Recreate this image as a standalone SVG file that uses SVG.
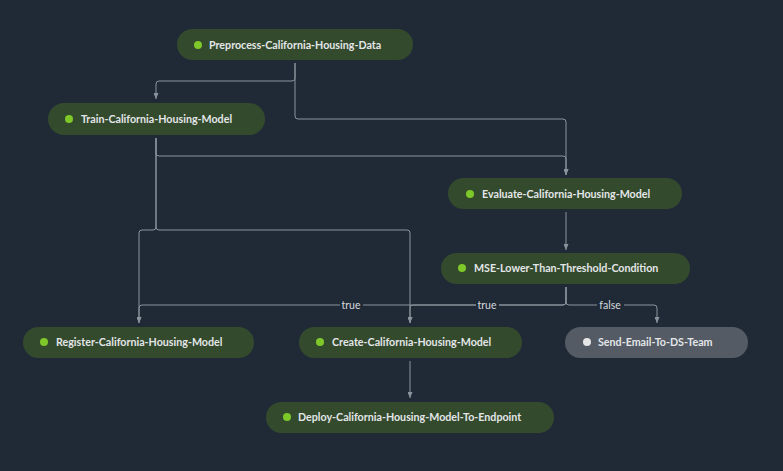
<svg xmlns="http://www.w3.org/2000/svg" width="783" height="471" viewBox="0 0 783 471">
<style>
.bg{fill:#202a37}
.node rect{fill:#344a2d}
.node.grey rect{fill:#545b64}
.dot{fill:#7ec82a}
.node.grey .dot{fill:#e6e6e6}
.node text{font-family:Lato,"Noto Sans","Liberation Sans",sans-serif;font-size:10.7px;font-weight:700;fill:#e3e6e8}
.edge{fill:none;stroke:#8a939c;stroke-width:1;marker-end:url(#arr)}
.lbl-bg{fill:#202a37}
.lbl{font-family:Lato,"Noto Sans","Liberation Sans",sans-serif;font-size:10.5px;fill:#d5d9dc;text-anchor:middle}
</style>
<defs>
<marker id="arr" markerUnits="userSpaceOnUse" markerWidth="6" markerHeight="5" refX="6" refY="2.5" orient="auto">
<path d="M0,0 L6,2.5 L0,5 z" fill="#8a939c"/>
</marker>
</defs>
<rect class="bg" x="0" y="0" width="783" height="471"/>
<g id="connectors">
<path class="edge" d="M295,63 V78 Q295,81 292,81 H159 Q156,81 156,84 V99"/>
<path class="edge" d="M295,63 V116 Q295,119 298,119 H563 Q566,119 566,122 V175"/>
<path class="edge" d="M156,138 V153 Q156,156 159,156 H563 Q566,156 566,159 V175"/>
<path class="edge" d="M156,138 V227 Q156,230 153,230 H142 Q139,230 139,233 V323"/>
<path class="edge" d="M156,138 V227 Q156,230 159,230 H407 Q410,230 410,233 V323"/>
<path class="edge" d="M566,212 V250"/>
<path class="edge" d="M566,287 V302 Q566,305 563,305 H142 Q139,305 139,308 V323"/>
<path class="edge" d="M566,287 V302 Q566,305 563,305 H413 Q410,305 410,308 V323"/>
<path class="edge" d="M566,287 V302 Q566,305 569,305 H654 Q657,305 657,308 V323"/>
<path class="edge" d="M410,361 V398"/>
<rect class="lbl-bg" x="340" y="298" width="23" height="13"/>
<text class="lbl" x="351" y="308.5">true</text>
<rect class="lbl-bg" x="476" y="298" width="23" height="13"/>
<text class="lbl" x="487" y="308.5">true</text>
<rect class="lbl-bg" x="597" y="298" width="27" height="13"/>
<text class="lbl" x="610" y="308.5">false</text>
</g>
<g id="n-preprocess" class="node"><rect x="177" y="29" width="236" height="31" rx="15.5"/><circle class="dot" cx="198" cy="45" r="4"/><text x="209" y="49">Preprocess-California-Housing-Data</text></g>
<g id="n-train" class="node"><rect x="48" y="103" width="217" height="32" rx="16"/><circle class="dot" cx="69" cy="119" r="4"/><text x="81" y="123">Train-California-Housing-Model</text></g>
<g id="n-evaluate" class="node"><rect x="448" y="178" width="234" height="31" rx="15.5"/><circle class="dot" cx="470" cy="194" r="4"/><text x="482" y="198">Evaluate-California-Housing-Model</text></g>
<g id="n-mse" class="node"><rect x="441" y="253" width="249" height="31" rx="15.5"/><circle class="dot" cx="462" cy="268" r="4"/><text x="474" y="272">MSE-Lower-Than-Threshold-Condition</text></g>
<g id="n-register" class="node"><rect x="23" y="327" width="231" height="31" rx="15.5"/><circle class="dot" cx="44" cy="342" r="4"/><text x="56" y="346">Register-California-Housing-Model</text></g>
<g id="n-create" class="node"><rect x="299" y="327" width="223" height="31" rx="15.5"/><circle class="dot" cx="320" cy="342" r="4"/><text x="332" y="346">Create-California-Housing-Model</text></g>
<g id="n-email" class="node grey"><rect x="565" y="327" width="183" height="31" rx="15.5"/><circle class="dot" cx="587" cy="342" r="4"/><text x="598" y="346">Send-Email-To-DS-Team</text></g>
<g id="n-deploy" class="node"><rect x="266" y="402" width="288" height="31" rx="15.5"/><circle class="dot" cx="287" cy="417" r="4"/><text x="298" y="421">Deploy-California-Housing-Model-To-Endpoint</text></g>
</svg>
